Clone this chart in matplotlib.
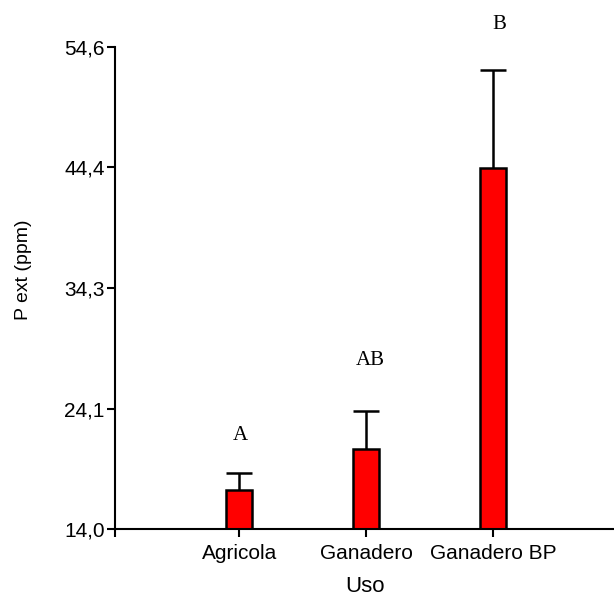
import matplotlib
matplotlib.use("Agg")
from matplotlib import pyplot as plt

# mean P ext per land use, with standard error and significance letters
usos = ["Agricola", "Ganadero", "Ganadero BP"]
medias = [17.3, 20.7, 44.4]
errores = [1.4, 3.2, 8.3]
letras = ["A", "AB", "B"]
letra_y = [21.9, 28.2, 56.5]
y_ticks = [14.0, 24.15, 34.3, 44.45, 54.6]
y_labels = ["14,0", "24,1", "34,3", "44,4", "54,6"]

plt.rcParams["font.family"] = ["Liberation Sans", "DejaVu Sans"]

fig = plt.figure(figsize=(6.14, 5.98), dpi=100)
ax = fig.add_axes([115 / 614, 1 - 529 / 598, 1 - 115 / 614, (529 - 47) / 598])

x = list(range(len(usos)))
ancho = 0.205
ax.bar(x, medias, width=ancho, color="#ff0000", edgecolor="black", linewidth=1.8, zorder=2)

# upper error bar only: stem from the bar top plus a cap as wide as the bar
tope = [m + e for m, e in zip(medias, errores)]
ax.vlines(x, medias, tope, color="black", linewidth=1.8, zorder=1)
ax.hlines(tope, [xi - ancho / 2 for xi in x], [xi + ancho / 2 for xi in x],
          color="black", linewidth=1.8, zorder=1)

for xi, txt, yi in zip(x, letras, letra_y):
    ax.text(xi + 0.01 + 0.02 * xi, yi, txt, ha="center", va="center", fontsize=15,
            family="Liberation Serif", clip_on=False)

ax.set_xlim(-0.98, 2.95)
ax.set_ylim(14.0, 54.6)
ax.set_yticks(y_ticks)
ax.set_yticklabels(y_labels, fontsize=15)
ax.set_xticks([-0.98] + x)
ax.set_xticklabels([""] + usos, fontsize=15)
ax.tick_params(axis="both", width=1.5, length=5.5, color="black", pad=2)
ax.tick_params(axis="x", pad=5)

for s in ["top", "right"]:
    ax.spines[s].set_visible(False)
for s in ["left", "bottom"]:
    ax.spines[s].set_linewidth(1.5)

ax.set_ylabel("P ext (ppm)", fontsize=14)
ax.yaxis.set_label_coords(-0.184, 0.537)
ax.yaxis.label.set_va("center")
ax.set_xlabel("Uso", fontsize=16)
ax.xaxis.set_label_coords(0.501, -0.12)
ax.xaxis.label.set_va("center")

fig.savefig("out.png", dpi=100)
